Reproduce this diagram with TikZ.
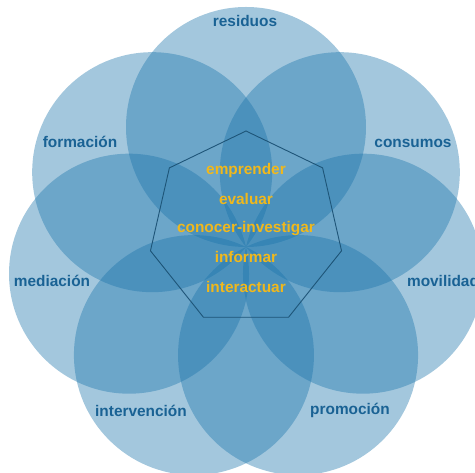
\documentclass[tikz,border=0pt]{standalone}
\usepackage{fontspec}
\setmainfont{Liberation Sans}
\usetikzlibrary{calc}
\definecolor{petal}{RGB}{25,115,170}
\definecolor{labelblue}{RGB}{25,98,148}
\definecolor{gold}{RGB}{240,184,28}
\definecolor{hepta}{RGB}{30,85,120}
\begin{document}
\begin{tikzpicture}[x=1pt,y=1pt,
  petalfill/.style={fill=petal,fill opacity=0.40},
  outerlabel/.style={anchor=base,text=labelblue,font=\fontsize{15.4}{18}\selectfont\bfseries,inner sep=0pt},
  innerlabel/.style={anchor=base,text=gold,font=\fontsize{15.4}{18}\selectfont\bfseries,inner sep=0pt},
  heptline/.style={draw=hepta,line width=0.9pt}]
\useasboundingbox (0,0) rectangle (475,473);
\coordinate (O) at (246,226);
\coordinate (H) at (246,244);
\foreach \k in {0,...,6}{
  \fill[petalfill] (O) ++({90-\k*360/7}:120) circle (120);
}
\draw[heptline] ($(H)+(90:98)$)
  \foreach \k in {1,...,6}{ -- ($(H)+({90+\k*360/7}:98)$) } -- cycle;
\node[outerlabel] (residuos) at (245,446) {residuos};
\node[outerlabel] (formacion) at (80,325) {formación};
\node[outerlabel] (consumos) at (413,325) {consumos};
\node[outerlabel] (mediacion) at (52,186) {mediación};
\node[outerlabel] (movilidad) at (443,186) {movilidad};
\node[outerlabel] (intervencion) at (141,56) {intervención};
\node[outerlabel] (promocion) at (350,58) {promoción};
\node[innerlabel] (emprender) at (246,298) {emprender};
\node[innerlabel] (evaluar) at (246,268) {evaluar};
\node[innerlabel] (conocer) at (246,240) {conocer-investigar};
\node[innerlabel] (informar) at (246,210) {informar};
\node[innerlabel] (interactuar) at (246,180) {interactuar};
\end{tikzpicture}
\end{document}
